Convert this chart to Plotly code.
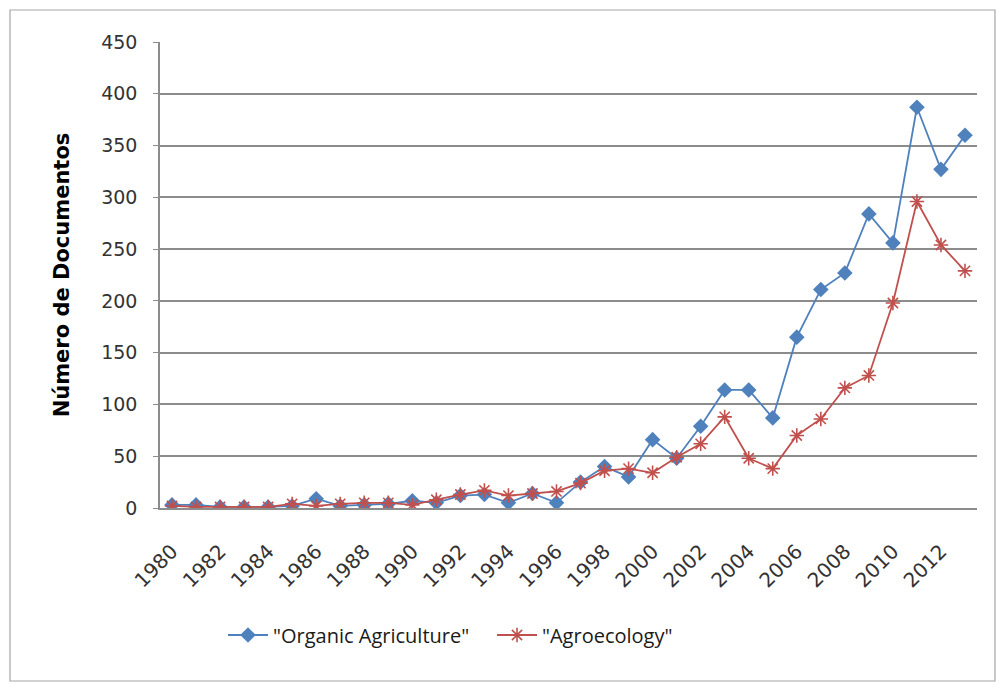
import plotly.graph_objects as go

years = list(range(1980, 2014))
organic = [3, 3, 1, 1, 1, 2, 9, 2, 3, 4, 7, 5, 12, 13, 5, 14, 5, 25, 40, 30,
           66, 48, 79, 114, 114, 87, 165, 211, 227, 284, 256, 387, 327, 360]
agroeco = [2, 1, 1, 1, 1, 4, 2, 4, 5, 5, 3, 8, 13, 17, 12, 14, 16, 24, 36, 38,
           34, 49, 62, 88, 48, 38, 70, 86, 116, 128, 198, 296, 254, 229]
y_ticks = [0, 50, 100, 150, 200, 250, 300, 350, 400, 450]
x_ticks = list(range(1980, 2014, 2))

# page has an 8px body margin; figure sized so it fits inside the window
W, H = 988, 675
ML, MR, MT, MB = 152, 19, 34, 175

BLUE = "#4F81BD"
RED = "#C0504D"
TICKFONT = "DejaVu Sans, sans-serif"
TEXTFONT = "Open Sans, Liberation Sans, sans-serif"

fig = go.Figure()
fig.add_trace(go.Scatter(
    x=years, y=organic, name='"Organic Agriculture"', mode="lines+markers",
    line=dict(color=BLUE, width=1.8),
    marker=dict(symbol="diamond", size=12, color=BLUE),
))
fig.add_trace(go.Scatter(
    x=years, y=agroeco, name='"Agroecology"', mode="lines+markers",
    line=dict(color=RED, width=1.8),
    marker=dict(symbol="asterisk-open", size=12, color=RED,
                line=dict(color=RED, width=1.6)),
))

pw = W - ML - MR
ph = H - MT - MB
# outer chart border (figure pixel positions converted to paper coordinates)
bx0, bx1, by0, by1 = 2, 987, 2, 673
fig.add_shape(type="rect", xref="paper", yref="paper",
              x0=(bx0 - ML) / pw, x1=(bx1 - ML) / pw,
              y0=(H - MB - by1) / ph, y1=(H - MB - by0) / ph,
              line=dict(color="#A6A6A6", width=1.2), fillcolor="rgba(0,0,0,0)",
              layer="below")

fig.update_layout(
    width=W, height=H,
    margin=dict(l=ML, r=MR, t=MT, b=MB),
    paper_bgcolor="white", plot_bgcolor="white",
    font=dict(family=TEXTFONT, color="#262626"),
    showlegend=True,
    legend=dict(orientation="h", x=(215 - ML) / pw, y=-0.2725,
                xanchor="left", yanchor="middle",
                entrywidth=214, entrywidthmode="pixels",
                font=dict(family=TEXTFONT, size=20, color="#1a1a1a"),
                itemwidth=40, bgcolor="rgba(0,0,0,0)"),
    xaxis=dict(
        range=[1979.5, 2013.5], tickmode="array", tickvals=x_ticks,
        ticktext=[str(t) for t in x_ticks], tickangle=-45,
        showgrid=False, zeroline=False, showline=True, linecolor="#8C8C8C",
        linewidth=1.5, tickfont=dict(family=TICKFONT, size=20, color="#333333"),
        ticks="", ticklabelstandoff=22, fixedrange=True,
    ),
    yaxis=dict(
        range=[0, 450], tickmode="array", tickvals=y_ticks,
        showgrid=True, gridcolor="#8C8C8C", gridwidth=1.5, zeroline=False,
        showline=True, linecolor="#8C8C8C", linewidth=1.5,
        ticks="outside", ticklen=5, tickcolor="#8C8C8C",
        ticklabelstandoff=12,
        tickfont=dict(family=TICKFONT, size=19, color="#333333"),
        title=dict(text="Número de Documentos",
                   font=dict(family=TICKFONT, size=21, color="#000000", weight="bold"),
                   standoff=26),
    ),
)

fig.write_html("out.html")
